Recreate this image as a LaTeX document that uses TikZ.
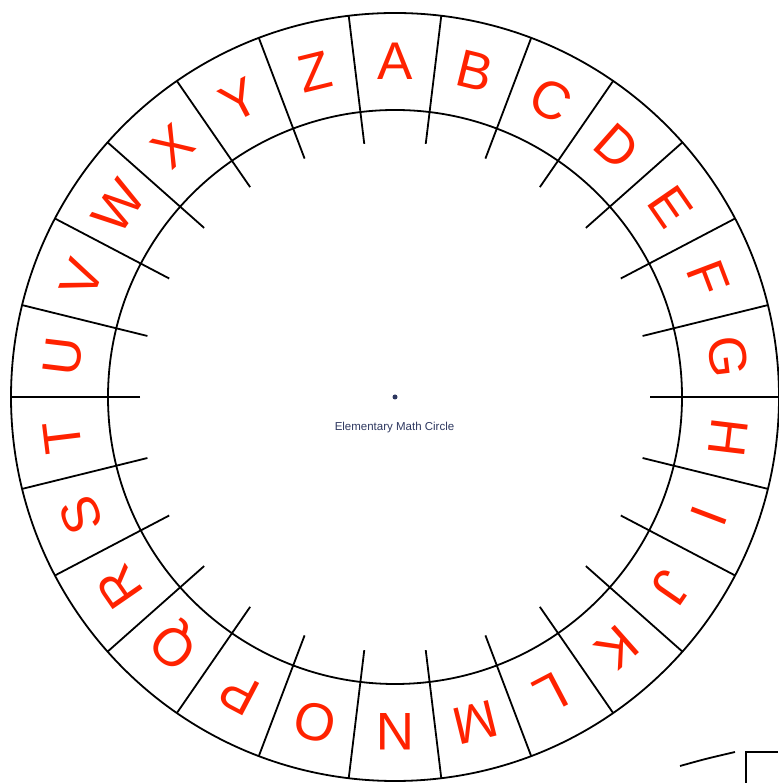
\documentclass[tikz,border=0pt]{standalone}
\usepackage{fontspec}
\setmainfont{Liberation Sans}
\usetikzlibrary{calc}
\definecolor{wheelred}{RGB}{255,34,0}
\definecolor{inkblue}{RGB}{45,55,95}
\tikzset{
  ringline/.style={draw=black,line width=1.8pt},
  letr/.style={text=wheelred,font=\fontsize{53}{53}\selectfont,inner sep=0pt,text height=38pt,text depth=0pt},
  lbl/.style={text=inkblue,font=\fontsize{11.5}{11.5}\selectfont,inner sep=0pt},
  hubdot/.style={fill=inkblue,circle,inner sep=0pt,minimum size=5pt}
}

\begin{document}
\begin{tikzpicture}[x=1pt,y=1pt]
  \useasboundingbox (0,0) rectangle (778,783);
  \coordinate (c) at (395,386);

  % wheel rings
  \draw[ringline] (c) circle[radius=384];
  \draw[ringline] (c) circle[radius=287];

  % dividers and inner ticks
  \foreach \k in {0,...,25}{
    \pgfmathsetmacro{\a}{90+180/26+\k*360/26}
    \draw[ringline] ($(c)+(\a:255)$) -- ($(c)+(\a:384)$);
  }

  % letters, A on top, clockwise
  \foreach \ch [count=\i from 0] in {A,B,C,D,E,F,G,H,I,J,K,L,M,N,O,P,Q,R,S,T,U,V,W,X,Y,Z}{
    \pgfmathsetmacro{\a}{90-\i*360/26}
    \node[letr,rotate=\a-90] (l\ch) at ($(c)+(\a:336)$) {\ch};
  }

  % hub
  \node[hubdot] (hub) at (c) {};
  \node[lbl] (title) at (394.5,355) {Elementary Math Circle};

  % next wheel, corner only
  \draw[ringline] (680,17) .. controls (705,24) .. (735,31);
  \draw[ringline] (746,0) -- (746,31) -- (778,31);
\end{tikzpicture}
\end{document}
